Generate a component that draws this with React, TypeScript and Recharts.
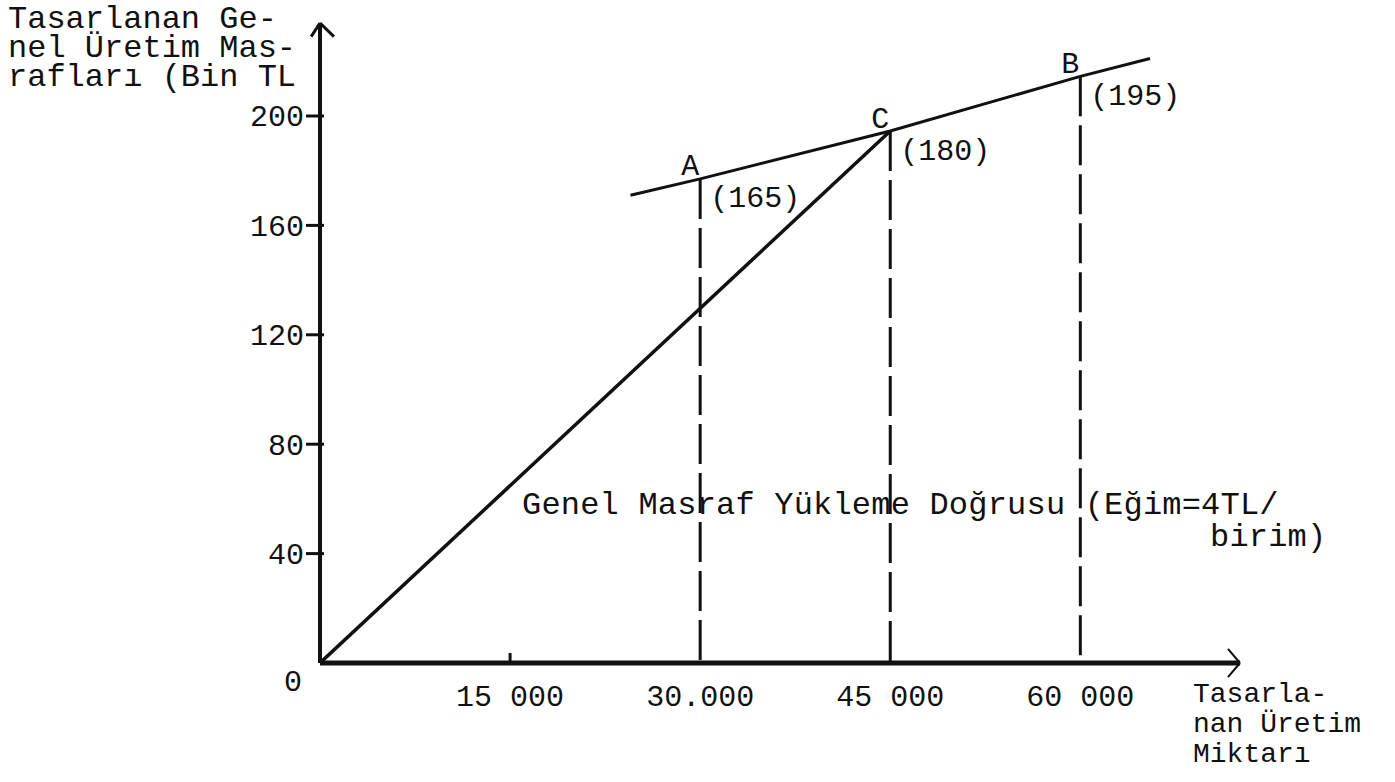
import { ComposedChart, Line, XAxis, YAxis, ReferenceLine, ReferenceDot } from 'recharts'

// x axis: planned production volume
const xTicks = [15000, 30000, 45000, 60000]
const xTickLabels = ['15 000', '30.000', '45 000', '60 000']

// y axis: planned overhead (thousand TL)
const yTicks = [0, 40, 80, 120, 160, 200]
const yTickLabels = ['0', '40', '80', '120', '160', '200']

// overhead loading line from the origin to C
const loadX = [0, 45000]
const loadY = [0, 194.5]

// flexible budget line through A, C, B (as drawn)
const budgetX = [24500, 30000, 45000, 60000, 65500]
const budgetY = [171, 177, 194.5, 214.5, 221]

// marked points
const pointNames = ['A', 'C', 'B']
const pointX = [30000, 45000, 60000]
const pointY = [177, 194.5, 214.5]
const pointValues = [165, 180, 195]

const FONT = '"Liberation Mono", "DejaVu Sans Mono", monospace'
const INK = '#111'

const loadData = loadX.map((x, i) => ({ x, y: loadY[i] }))
const budgetData = budgetX.map((x, i) => ({ x, y: budgetY[i] }))
const drops = pointX.map((x, i) => [
  { x, y: pointY[i] },
  { x, y: 0 },
])

const XTick = (props: any) => {
  const { x, y, payload } = props
  const idx = xTicks.indexOf(payload.value)
  return (
    <g>
      {/* only the first tick has a mark on the axis */}
      {idx === 0 && <line x1={x} x2={x} y1={y - 32} y2={y - 42} stroke={INK} strokeWidth={3} />}
      <text x={x} y={y} dy="0.35em" textAnchor="middle" fontFamily={FONT} fontSize={30} fill={INK}>
        {xTickLabels[idx]}
      </text>
    </g>
  )
}

const YTick = (props: any) => {
  const { x, y, payload } = props
  const label = yTickLabels[yTicks.indexOf(payload.value)]
  const zero = payload.value === 0
  return (
    <g>
      {!zero && <line x1={x + 2} x2={x + 20} y1={y} y2={y} stroke={INK} strokeWidth={3} />}
      <text x={zero ? x - 2 : x} y={zero ? y + 17 : y} dy="0.35em" textAnchor="end" fontFamily={FONT} fontSize={30} fill={INK}>
        {label}
      </text>
    </g>
  )
}

const pointLabel = (i: number) => (p: any) => {
  const vb = p.viewBox || {}
  const cx = vb.x + (vb.width || 0) / 2
  const cy = vb.y + (vb.height || 0) / 2
  return (
    <g>
      <text x={cx - 10} y={cy - 14} dy="0.35em" textAnchor="middle" fontFamily={FONT} fontSize={30} fill={INK}>
        {pointNames[i]}
      </text>
      <text x={cx + 10} y={cy + 18} dy="0.35em" textAnchor="start" fontFamily={FONT} fontSize={30} fill={INK}>
        {'(' + pointValues[i] + ')'}
      </text>
    </g>
  )
}

const textStyle: React.CSSProperties = {
  position: 'absolute',
  fontFamily: FONT,
  color: INK,
  whiteSpace: 'pre',
  margin: 0,
}

export default function App() {
  return (
    <div style={{ position: 'absolute', left: 0, top: 0, width: 1395, height: 782, background: '#fff', overflow: 'hidden' }}>
      <ComposedChart width={1395} height={782} margin={{ top: 23, right: 155, bottom: 59, left: 260 }}>
        <XAxis
          dataKey="x"
          type="number"
          domain={[0, 72600]}
          ticks={xTicks}
          interval={0}
          allowDataOverflow
          tick={<XTick />}
          tickLine={false}
          tickSize={0}
          tickMargin={32}
          height={60}
          axisLine={{ stroke: INK, strokeWidth: 5 }}
        />
        <YAxis
          dataKey="y"
          type="number"
          domain={[0, 234]}
          ticks={yTicks}
          interval={0}
          allowDataOverflow
          tick={<YTick />}
          tickLine={false}
          tickSize={12}
          tickMargin={4}
          width={60}
          axisLine={{ stroke: INK, strokeWidth: 4 }}
        />

        {/* axis arrow heads */}
        <ReferenceLine segment={[{ x: -700, y: 229 }, { x: 0, y: 234 }]} stroke={INK} strokeWidth={3} ifOverflow="visible" />
        <ReferenceLine segment={[{ x: 0, y: 234 }, { x: 1100, y: 229 }]} stroke={INK} strokeWidth={3} ifOverflow="visible" />
        <ReferenceLine segment={[{ x: 71650, y: 5.2 }, { x: 72600, y: 0 }]} stroke={INK} strokeWidth={2} ifOverflow="visible" />
        <ReferenceLine segment={[{ x: 72600, y: 0 }, { x: 71650, y: -5.2 }]} stroke={INK} strokeWidth={2} ifOverflow="visible" />

        {drops.map((d, i) => (
          <Line
            key={'drop' + i}
            data={d}
            dataKey="y"
            type="linear"
            stroke={INK}
            strokeWidth={3}
            strokeDasharray="40 9"
            dot={false}
            activeDot={false}
            isAnimationActive={false}
          />
        ))}
        <Line data={loadData} dataKey="y" type="linear" stroke={INK} strokeWidth={3.5} dot={false} activeDot={false} isAnimationActive={false} />
        <Line data={budgetData} dataKey="y" type="linear" stroke={INK} strokeWidth={3} dot={false} activeDot={false} isAnimationActive={false} />

        {pointX.map((x, i) => (
          <ReferenceDot key={'pt' + i} x={x} y={pointY[i]} r={1} fill="none" stroke="none" label={pointLabel(i)} />
        ))}
      </ComposedChart>

      <div style={{ ...textStyle, left: 8, top: 5, fontSize: 32, lineHeight: '29px' }}>
        {'Tasarlanan Ge-\nnel Üretim Mas-\nrafları (Bin TL'}
      </div>
      <div style={{ ...textStyle, left: 1193, top: 680, fontSize: 28, lineHeight: '30px' }}>
        {'Tasarla-\nnan Üretim\nMiktarı'}
      </div>
      <div style={{ ...textStyle, left: 522, top: 490, fontSize: 32, lineHeight: '32px', letterSpacing: '0.2px' }}>
        {'Genel Masraf Yükleme Doğrusu (Eğim=4TL/'}
      </div>
      <div style={{ ...textStyle, left: 1210, top: 522, fontSize: 32, lineHeight: '32px', letterSpacing: '0.2px' }}>
        {'birim)'}
      </div>
    </div>
  )
}
